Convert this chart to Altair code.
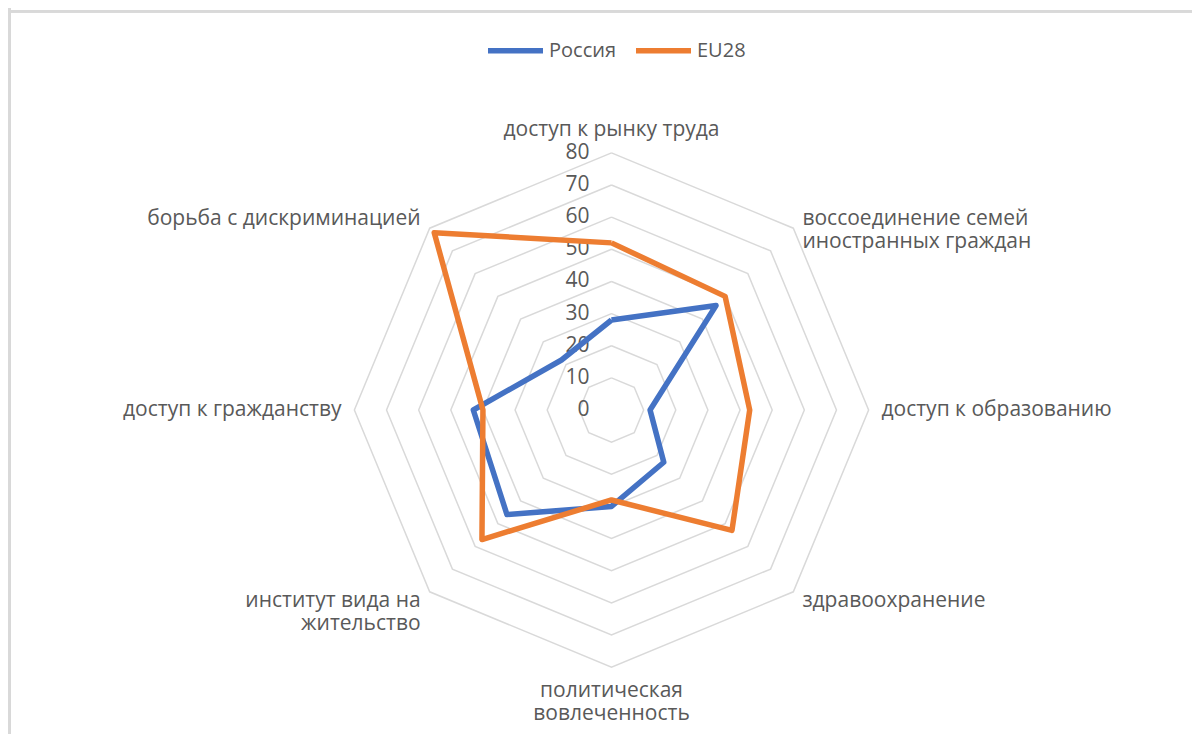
import altair as alt
import pandas as pd

# ---- data ----
categories = [
    "доступ к рынку труда",
    "воссоединение семей\nиностранных граждан",
    "доступ к образованию",
    "здравоохранение",
    "политическая\nвовлеченность",
    "институт вида на\nжительство",
    "доступ к гражданству",
    "борьба с дискриминацией",
]
series_names = ["Россия", "EU28"]
russia = [28, 46, 12, 23, 30, 46, 43, 22]
eu28 = [52, 50, 43, 53, 28, 57, 40, 78]
ring_levels = [10, 20, 30, 40, 50, 60, 70, 80]
tick_levels = [0, 10, 20, 30, 40, 50, 60, 70, 80]
colors = ["#4472C4", "#ED7D31"]

n = len(categories)
series_rows = []
for name, vals in zip(series_names, [russia, eu28]):
    for k in range(n + 1):
        series_rows.append({"series": name, "k": k, "value": vals[k % n]})
series_df = pd.DataFrame(series_rows)
ring_df = pd.DataFrame([{"level": lv, "k": k} for lv in ring_levels for k in range(n + 1)])
tick_df = pd.DataFrame({"level": tick_levels})
cat_df = pd.DataFrame({"k": list(range(n)), "label": categories})

# ---- layout ----
W, H = 1184, 726
PX = 3.214          # pixels per unit
CX, CY = 603.5, 402  # centre in view coordinates
xdom = [-CX / PX, (W - CX) / PX]
ydom = [-(H - CY) / PX, CY / PX]
FONT = "Open Sans"
TXT = "#595959"
GRID = "#D9D9D9"
LABEL_R = 84

xs = alt.Scale(domain=xdom, nice=False, zero=False)
ys = alt.Scale(domain=ydom, nice=False, zero=False)


def polar(base, rfield):
    return base.transform_calculate(
        ang=f"datum.k * 2 * PI / {n}"
    ).transform_calculate(
        px=f"{rfield} * sin(datum.ang)", py=f"{rfield} * cos(datum.ang)"
    )


X = alt.X("px:Q", scale=xs, axis=None)
Y = alt.Y("py:Q", scale=ys, axis=None)

border_left = alt.Chart(tick_df).mark_rule(color=GRID, strokeWidth=2.5).encode(
    x=alt.value(1.7), y=alt.value(0), y2=alt.value(H + 10)
)
border_top = alt.Chart(tick_df).mark_rule(color=GRID, strokeWidth=2.5).encode(
    y=alt.value(3.3), x=alt.value(0), x2=alt.value(W + 10)
)

rings = polar(alt.Chart(ring_df), "datum.level").mark_line(
    color=GRID, strokeWidth=1.5
).encode(x=X, y=Y, detail="level:N", order="k:Q")

ticks = alt.Chart(tick_df).mark_text(
    align="right", baseline="middle", dx=-22, font=FONT, fontSize=21, color=TXT
).encode(
    x=alt.X("z:Q", scale=xs, axis=None),
    y=alt.Y("level:Q", scale=ys, axis=None),
    text="level:Q",
).transform_calculate(z="0")


def cat_layer(ks, align, baseline):
    return polar(alt.Chart(cat_df), str(LABEL_R)).transform_filter(
        alt.FieldOneOfPredicate(field="k", oneOf=ks)
    ).mark_text(
        align=align, baseline=baseline, font=FONT, fontSize=21, color=TXT,
        lineBreak="\n", lineHeight=23
    ).encode(x=X, y=Y, text="label:N")


cat_top = cat_layer([0], "center", "bottom")
cat_bottom = cat_layer([4], "center", "top")
cat_right = cat_layer([1, 2, 3], "left", "middle")
cat_left = cat_layer([5, 6, 7], "right", "middle")

lines = polar(alt.Chart(series_df), "datum.value").mark_line(
    strokeWidth=5.5, strokeJoin="round"
).encode(
    x=X,
    y=Y,
    order="k:Q",
    color=alt.Color(
        "series:N",
        scale=alt.Scale(domain=series_names, range=colors),
        sort=series_names,
        legend=alt.Legend(
            title=None, orient="none", direction="horizontal",
            legendX=477, legendY=12,
            symbolType="stroke", symbolStrokeWidth=5.5, symbolSize=3025,
            labelFont=FONT, labelFontSize=20, labelColor=TXT,
            labelOffset=3, columnPadding=8, padding=0,
        ),
    ),
)

chart = alt.layer(
    border_left, border_top, rings, ticks, cat_top, cat_bottom, cat_right, cat_left, lines
).properties(
    width=W, height=H, autosize=alt.AutoSizeParams(type="none"), padding=0,
    background="white",
).configure_view(strokeWidth=0, strokeOpacity=0)

chart.save("out.html", embed_options={"renderer": "svg", "actions": False})
